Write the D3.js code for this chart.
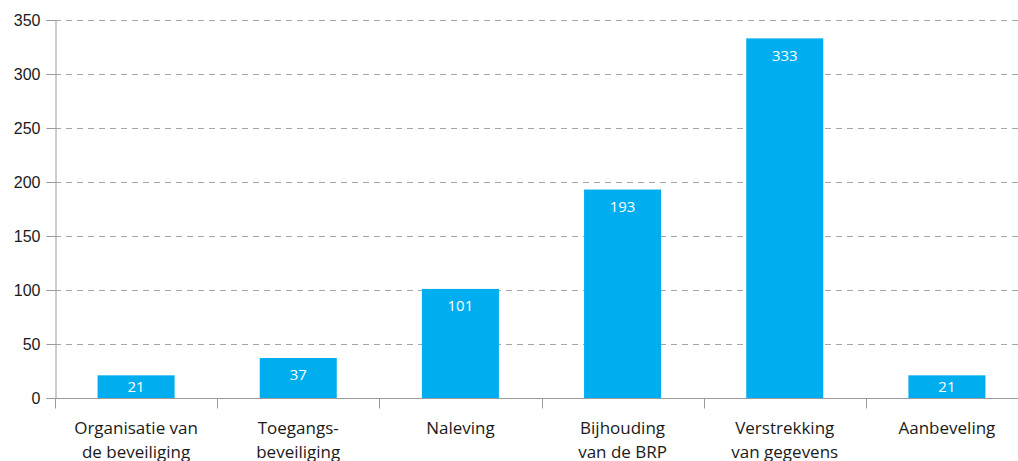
<!DOCTYPE html>
<html>
<head>
<meta charset="utf-8">
<script src="https://cdn.jsdelivr.net/npm/d3@7"></script>
<style>
  html, body { margin: 0; padding: 0; background: #fff; overflow: hidden; }
  svg { display: block; font-family: "Open Sans", "Noto Sans", sans-serif; }
</style>
</head>
<body>
<div id="chart"></div>
<script>
// data
const categories = [
    ["Organisatie van", "de beveiliging"],
    ["Toegangs-", "beveiliging"],
    ["Naleving"],
    ["Bijhouding", "van de BRP"],
    ["Verstrekking", "van gegevens"],
    ["Aanbeveling"]
];
const values = [21, 37, 101, 193, 333, 21];
const yTicks = [0, 50, 100, 150, 200, 250, 300, 350];

const width = 1018, height = 461;
const margin = {top: 20, right: -10, bottom: 63, left: 55};

const svg = d3.select('#chart').append('svg')
    .attr('width', width)
    .attr('height', height);

const keys = categories.map((c, i) => i);

const x = d3.scaleBand()
    .domain(keys)
    .range([margin.left, width - margin.right])
    .paddingInner(0.525)
    .paddingOuter(0.2625);

const y = d3.scaleLinear()
    .domain([0, 350])
    .range([height - margin.bottom, margin.top]);

const axisColor = '#9a9a9a';

// gridlines
svg.append('g')
    .selectAll('line')
    .data(yTicks.filter(d => d > 0))
    .enter().append('line')
    .attr('x1', margin.left)
    .attr('x2', width)
    .attr('y1', d => Math.round(y(d)) + 0.5)
    .attr('y2', d => Math.round(y(d)) + 0.5)
    .attr('stroke', '#a6a6a6')
    .attr('stroke-width', 1)
    .attr('stroke-dasharray', '6,5');

// y axis
const yAxis = svg.append('g')
    .attr('transform', `translate(${margin.left + 0.5},0)`)
    .call(d3.axisLeft(y).tickValues(yTicks).tickSize(9).tickPadding(6));
yAxis.select('.domain').attr('stroke', axisColor);
yAxis.selectAll('.tick line').attr('stroke', axisColor);
yAxis.selectAll('.tick text')
    .attr('fill', '#1a1a1a')
    .style('font-size', '16px')
    .attr('font-family', null);

// bars
svg.append('g')
    .selectAll('rect')
    .data(values)
    .enter().append('rect')
    .attr('x', (d, i) => x(i))
    .attr('width', x.bandwidth())
    .attr('y', d => y(d))
    .attr('height', d => y(0) - y(d))
    .attr('fill', '#00adee');

// value labels
svg.append('g')
    .selectAll('text')
    .data(values)
    .enter().append('text')
    .attr('x', (d, i) => x(i) + x.bandwidth() / 2)
    .attr('y', d => Math.min(y(d) + 17, (y(d) + y(0)) / 2))
    .attr('dy', '0.35em')
    .attr('text-anchor', 'middle')
    .attr('fill', '#fff')
    .style('font-size', '15px')
    .text(d => d);

// x axis
const step = x.step();
const base = Math.round(y(0)) + 0.5;
svg.append('line')
    .attr('x1', margin.left)
    .attr('x2', width)
    .attr('y1', base)
    .attr('y2', base)
    .attr('stroke', axisColor);

svg.append('g')
    .selectAll('line')
    .data(d3.range(keys.length + 1))
    .enter().append('line')
    .attr('x1', i => Math.round(margin.left + i * step) + 0.5)
    .attr('x2', i => Math.round(margin.left + i * step) + 0.5)
    .attr('y1', base)
    .attr('y2', base + 10)
    .attr('stroke', axisColor);

// category labels
const labels = svg.append('g')
    .selectAll('text')
    .data(categories)
    .enter().append('text')
    .attr('x', (d, i) => x(i) + x.bandwidth() / 2)
    .attr('y', 434)
    .attr('text-anchor', 'middle')
    .attr('fill', '#1a1a1a')
    .style('font-size', '17px');

labels.selectAll('tspan')
    .data(d => d)
    .enter().append('tspan')
    .attr('x', function () { return d3.select(this.parentNode).attr('x'); })
    .attr('dy', (d, i) => i === 0 ? 0 : 24)
    .text(d => d);
</script>
</body>
</html>
